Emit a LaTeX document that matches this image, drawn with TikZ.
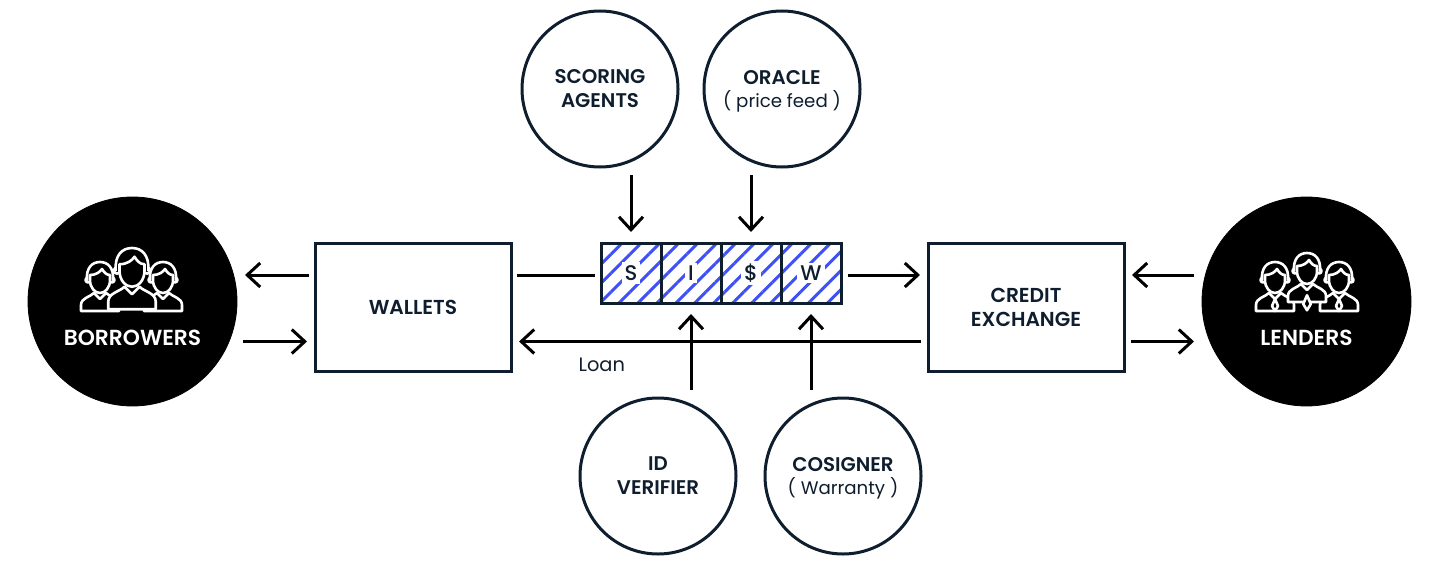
\documentclass[tikz,border=0pt]{standalone}
\usepackage{fontspec}
\setmainfont{Poppins}[BoldFont={Poppins SemiBold}]
\newfontfamily\mediumfont{Poppins Medium}
\usepackage[dvipsnames, table]{xcolor}
\definecolor{cxdark}{HTML}{0F1E2E}
\definecolor{cxblue}{HTML}{3F51F5}
\usepackage{tikz}
\usetikzlibrary{
  shapes.geometric, arrows.meta, positioning,
  patterns.meta, calc
}
\newcommand{\subline}{\fontsize{9.1}{12}\selectfont\mdseries}

\begin{document}
\begin{tikzpicture}[
  x=0.5pt, y=-0.5pt,
  every node/.style={outer sep=0pt},
  party/.style={circle, fill=black, draw=black,
    minimum size=104.5pt, inner sep=0pt, yshift=2.75pt,
    align=center, text=white,
    font=\fontsize{10.9}{12}\selectfont\bfseries},
  service/.style={circle, draw=cxdark, line width=1.5pt, fill=white,
    minimum size=78pt, inner sep=0pt,
    align=center, text=cxdark,
    font=\fontsize{9.9}{12}\selectfont\bfseries},
  venue/.style={rectangle, draw=cxdark, line width=1.5pt, fill=white,
    minimum width=98pt, minimum height=64pt,
    align=center, text=cxdark,
    font=\fontsize{10.1}{12}\selectfont\bfseries},
  cell/.style={rectangle, draw=cxdark, line width=1.5pt,
    minimum width=30pt, minimum height=30pt, inner sep=0pt,
    pattern={Lines[angle=45, distance=6.7pt, line width=1.5pt]},
    pattern color=cxblue},
  letter/.style={fill=white, text=cxdark, inner sep=1.5pt,
    font=\fontsize{10.6}{12}\selectfont\mediumfont},
  arr/.style={-{Straight Barb[length=6.5pt, width=12pt, line width=1.5pt]},
    line width=1.5pt, color=black},
  lbl/.style={font=\fontsize{9.7}{12}\selectfont, text=cxdark},
  iconline/.style={draw=white, fill=black, line width=1.3pt,
    line cap=round, line join=round},
  pics/person/.style={code={
    \path[iconline] (-19,33) -- (-19,27)
      .. controls (-19,20) and (-10,19) .. (-6,15) -- (0,21) -- (6,15)
      .. controls (10,19) and (19,20) .. (19,27) -- (19,33) -- cycle;
    \path[iconline] (-12,2) circle (2.5);
    \path[iconline] (12,2) circle (2.5);
    \path[iconline] (-13,2) .. controls (-14,-10) and (-8,-16) .. (0,-16)
      .. controls (8,-16) and (14,-10) .. (13,2);
    \path[iconline] (-10,-3) -- (-10,2)
      .. controls (-10,10) and (-5,15) .. (0,15)
      .. controls (5,15) and (10,10) .. (10,2) -- (10,-3)
      .. controls (6,-3) and (4,-6) .. (2,-9)
      .. controls (0,-6) and (-4,-3) .. (-10,-3) -- cycle;
  }},
  pics/suit/.style={code={
    \pic {person};
    \path[iconline] (0,21) -- (-3,28) -- (0,33) -- (3,28) -- cycle;
  }}
]
  \useasboundingbox (0,0) rectangle (1440,562);

  \node[cell, label={[letter]center:S}] (cellS) at (631,273) {};
  \node[cell, right=0pt of cellS, label={[letter]center:I}] (cellI) {};
  \node[cell, right=0pt of cellI, label={[letter]center:\$}] (cellD) {};
  \node[cell, right=0pt of cellD, label={[letter]center:W}] (cellW) {};

  \node[venue, left=45pt of cellS.north west, anchor=north east] (wallets) {WALLETS};
  \node[venue, right=43.5pt of cellW.north east, anchor=north west] (exchange)
    {CREDIT\\EXCHANGE};
  \node[party, left=39pt of wallets] (borrowers) {\\[32pt]BORROWERS};
  \node[party, right=39pt of exchange] (lenders) {\\[32pt]LENDERS};

  \node[service, above=38pt of cellS.north, xshift=-15.5pt] (scoring) {SCORING\\AGENTS};
  \node[service, right=13pt of scoring] (oracle)
    {\rule{0pt}{9.5pt}ORACLE\\[-0.5pt]{\subline ( price feed )}};
  \node[service, below=47.5pt of cellI.south, xshift=-16.5pt] (verifier) {ID\\VERIFIER};
  \node[service, right=14.5pt of verifier] (cosigner)
    {\rule{0pt}{9.5pt}COSIGNER\\[-0.5pt]{\subline ( Warranty )}};

  \pic at (100,278) {person};
  \pic at (163,278) {person};
  \pic[scale=1.25] at (132,268) {person};

  \pic at (1275,278) {suit};
  \pic at (1339,278) {suit};
  \pic[scale=1.25] at (1307,269) {suit};

  \draw[arr] ($(wallets.west)+(-6,-32)$) -- ($(wallets.west -| borrowers.east)+(8,-32)$);
  \draw[arr] ($(wallets.west -| borrowers.east)+(6,34.5)$) -- ($(wallets.west)+(-8,34.5)$);
  \draw[line width=1.5pt] ($(wallets.east)+(6,-32)$) -- ($(cellS.west)+(-6,2)$);
  \draw[arr] ($(cellW.east)+(7,2)$) -- ($(exchange.west)+(-8,-32)$);
  \draw[arr] ($(exchange.west)+(-7,34.5)$)
    -- node[lbl, below=5pt, pos=0.794] (loan) {Loan}
    ($(wallets.east)+(8,34.5)$);
  \draw[arr] ($(exchange.east -| lenders.west)+(-8,-32)$) -- ($(exchange.east)+(8,-32)$);
  \draw[arr] ($(exchange.east)+(7,34.5)$) -- ($(exchange.east -| lenders.west)+(-8,34.5)$);

  \draw[arr] ($(scoring.south -| cellS)+(0,8)$) -- ($(cellS.north)+(0,-11)$);
  \draw[arr] ($(oracle.south -| cellD)+(0,8)$) -- ($(cellD.north)+(0,-11)$);
  \draw[arr] ($(verifier.north -| cellI)+(0,-8)$) -- ($(cellI.south)+(0,11)$);
  \draw[arr] ($(cosigner.north -| cellW)+(0,-8)$) -- ($(cellW.south)+(0,11)$);
\end{tikzpicture}
\end{document}
